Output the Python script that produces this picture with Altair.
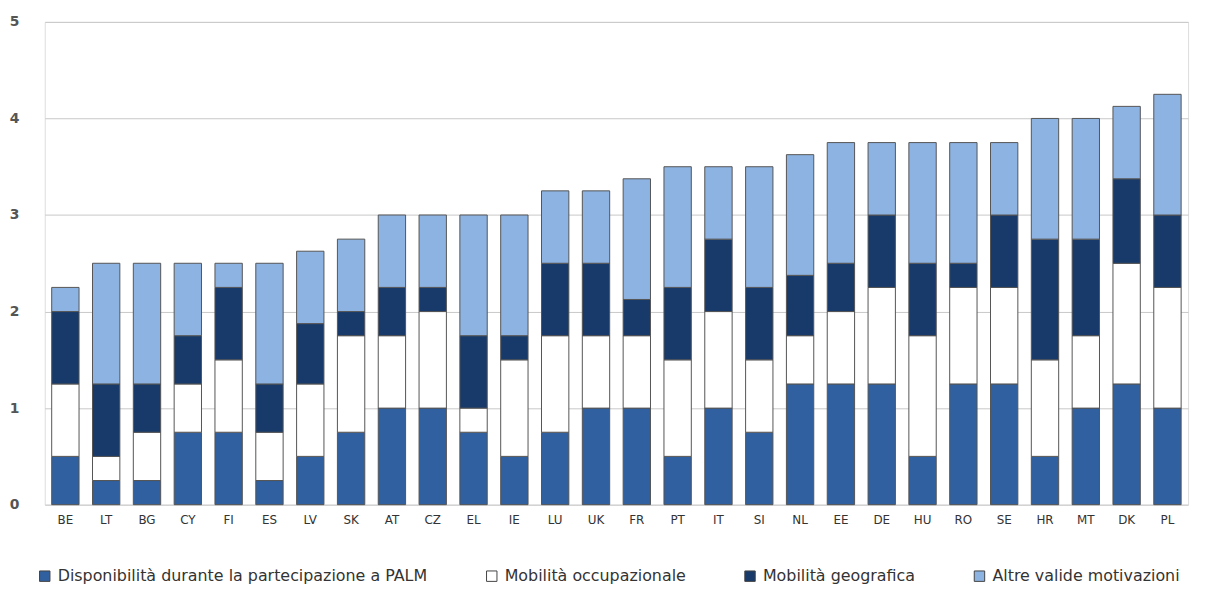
import altair as alt
import pandas as pd

countries = ["BE", "LT", "BG", "CY", "FI", "ES", "LV", "SK", "AT", "CZ", "EL", "IE", "LU", "UK",
             "FR", "PT", "IT", "SI", "NL", "EE", "DE", "HU", "RO", "SE", "HR", "MT", "DK", "PL"]

series = ["Disponibilità durante la partecipazione a PALM", "Mobilità occupazionale",
          "Mobilità geografica", "Altre valide motivazioni"]

disponibilita = [0.5, 0.25, 0.25, 0.75, 0.75, 0.25, 0.5, 0.75, 1.0, 1.0, 0.75, 0.5, 0.75, 1.0,
                 1.0, 0.5, 1.0, 0.75, 1.25, 1.25, 1.25, 0.5, 1.25, 1.25, 0.5, 1.0, 1.25, 1.0]
occupazionale = [0.75, 0.25, 0.5, 0.5, 0.75, 0.5, 0.75, 1.0, 0.75, 1.0, 0.25, 1.0, 1.0, 0.75,
                 0.75, 1.0, 1.0, 0.75, 0.5, 0.75, 1.0, 1.25, 1.0, 1.0, 1.0, 0.75, 1.25, 1.25]
geografica = [0.75, 0.75, 0.5, 0.5, 0.75, 0.5, 0.625, 0.25, 0.5, 0.25, 0.75, 0.25, 0.75, 0.75,
              0.375, 0.75, 0.75, 0.75, 0.625, 0.5, 0.75, 0.75, 0.25, 0.75, 1.25, 1.0, 0.875, 0.75]
altre = [0.25, 1.25, 1.25, 0.75, 0.25, 1.25, 0.75, 0.75, 0.75, 0.75, 1.25, 1.25, 0.75, 0.75,
         1.25, 1.25, 0.75, 1.25, 1.25, 1.25, 0.75, 1.25, 1.25, 0.75, 1.25, 1.25, 0.75, 1.25]

colors = ["#30609f", "#ffffff", "#173a6b", "#8db3e2"]

rows = []
for i, c in enumerate(countries):
    for k, vals in enumerate([disponibilita, occupazionale, geografica, altre]):
        rows.append({"paese": c, "serie": series[k], "valore": vals[i], "ordine": k})
df = pd.DataFrame(rows)

chart = alt.Chart(df).mark_bar(stroke="#555555", strokeWidth=1).encode(
    x=alt.X("paese:N", sort=countries, title=None,
            scale=alt.Scale(paddingInner=0.33, paddingOuter=0.17),
            axis=alt.Axis(labelAngle=0, ticks=False, domain=False, labelFontSize=12,
                          labelColor="#333333", labelFont="DejaVu Sans", labelPadding=10)),
    y=alt.Y("valore:Q", stack="zero", title=None,
            scale=alt.Scale(domain=[0, 5], nice=False),
            axis=alt.Axis(values=[0, 1, 2, 3, 4, 5], ticks=False, domain=False,
                          labelFontSize=14, labelFontWeight="bold", labelColor="#555555",
                          labelFont="DejaVu Sans", labelPadding=26,
                          grid=True, gridColor="#c8c8c8", gridWidth=1)),
    color=alt.Color("serie:N", sort=series,
                    scale=alt.Scale(domain=series, range=colors),
                    legend=alt.Legend(title=None, orient="none", direction="horizontal",
                                      columns=4, legendX=-8, legendY=550,
                                      symbolType="square", symbolSize=110,
                                      symbolStrokeColor="#444444", symbolStrokeWidth=1,
                                      labelFontSize=16, labelFont="DejaVu Sans",
                                      labelColor="#333333", columnPadding=56,
                                      labelOffset=5, labelLimit=600)),
    order=alt.Order("ordine:Q", sort="ascending"),
).properties(
    width=1151, height=486,
    autosize=alt.AutoSizeParams(type="none"),
    padding={"left": 37, "top": 12, "right": 10, "bottom": 95},
).configure_view(
    stroke="#a8a8a8", strokeWidth=1.5
).configure(background="white")

chart.save("out.html", embed_options={"renderer": "svg", "actions": False})
